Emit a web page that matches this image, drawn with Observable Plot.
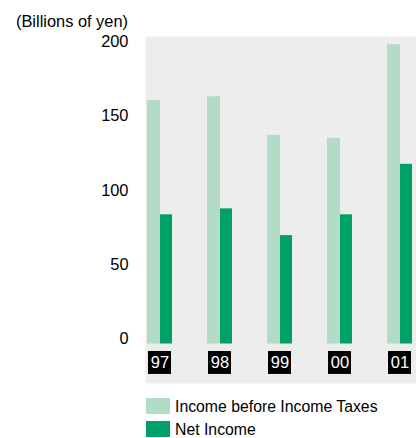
<!DOCTYPE html>
<html><head><meta charset="utf-8">
<script src="https://cdn.jsdelivr.net/npm/d3@7"></script>
<script src="https://cdn.jsdelivr.net/npm/@observablehq/plot@0.6"></script>
<style>
body{margin:0;background:#fff;font-family:"Liberation Sans",Arial,Helvetica,sans-serif;}
#wrap{position:relative;width:416px;height:438px;overflow:hidden;}
#wrap svg{position:absolute;left:0;top:0;}
#unit{position:absolute;left:0;top:13px;width:128px;text-align:right;font-size:16.4px;line-height:16px;color:#000;white-space:nowrap;}
.lg{position:absolute;left:146px;height:16px;display:flex;align-items:center;font-size:15.8px;line-height:16px;color:#000;white-space:nowrap;}
.lg span.t{position:relative;top:1px;}
.sw{width:24px;height:16px;margin-right:5px;flex:none;}
</style></head><body>
<div id="wrap"><div id="unit">(Billions of yen)</div></div>
<script>
// Data
const years = ["97", "98", "99", "00", "01"];
const incomeBeforeTaxes = [164, 166.5, 140.5, 138.5, 201.5];
const netIncome = [87, 91, 73, 87, 121];
const seriesNames = ["Income before Income Taxes", "Net Income"];
const yTicks = [0, 50, 100, 150, 200];
const unitLabel = "(Billions of yen)";

// Styles
const colors = ["#b3dcc6", "#00a166"];
const panelFill = "#ededed";
const FONT = '"Liberation Sans", Arial, Helvetica, sans-serif';
const LABEL_Y1 = -20.5, LABEL_Y2 = -5.05; // label band below baseline (y units)

const rows = years.map((year, i) => ({year, before: incomeBeforeTaxes[i], net: netIncome[i]}));

const chart = Plot.plot({
  width: 416,
  height: 390,
  marginLeft: 145,
  marginRight: 0,
  marginTop: 36,
  marginBottom: 7,
  style: {fontFamily: FONT, background: "transparent", color: "#000"},
  x: {domain: years, range: [145, 414], paddingInner: 0.59, paddingOuter: 0, axis: null},
  y: {domain: [0, 200], range: [343.5, 46.5], axis: null},
  marks: [
    Plot.frame({fill: panelFill, stroke: "none"}),
    Plot.barY(rows, {x: "year", y: "before", fill: colors[0], insetRight: 12}),
    Plot.barY(rows, {x: "year", y: "net", fill: colors[1], insetLeft: 13}),
    Plot.barY(years, {x: d => d, y1: LABEL_Y1, y2: LABEL_Y2, fill: "#000", insetLeft: 1, insetRight: 1}),
    Plot.text(years, {x: d => d, y: (LABEL_Y1 + LABEL_Y2) / 2, text: d => d, fill: "#fff", fontSize: 16.5}),
    Plot.axisY(yTicks, {tickSize: 0, tickPadding: 17, fontSize: 16.4, lineAnchor: "bottom", fill: "#000", textAnchor: "end"})
  ]
});

const wrap = document.getElementById("wrap");
wrap.appendChild(chart);
document.getElementById("unit").textContent = unitLabel;

const legendTops = [398, 421];
seriesNames.forEach((name, i) => {
  const row = document.createElement("div");
  row.className = "lg";
  row.style.top = legendTops[i] + "px";
  const sw = document.createElement("span");
  sw.className = "sw";
  sw.style.background = colors[i];
  const t = document.createElement("span");
  t.className = "t";
  t.textContent = name;
  row.appendChild(sw);
  row.appendChild(t);
  wrap.appendChild(row);
});
</script>
</body></html>
